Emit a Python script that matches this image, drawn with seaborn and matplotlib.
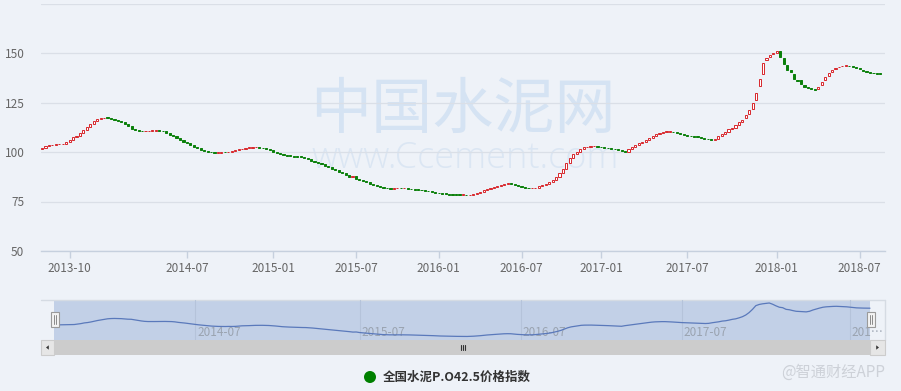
import numpy as np
import pandas as pd
import matplotlib
matplotlib.use("Agg")
import matplotlib.pyplot as plt
from matplotlib.patches import Rectangle, Circle, Polygon
from matplotlib.transforms import blended_transform_factory
import seaborn as sns

# ---------------- data (weekly candles) ----------------
close = [
    102.0, 102.9, 103.4, 103.6, 103.8, 103.8, 104.0, 104.9, 106.0, 107.5,
    108.3, 109.6, 111.2, 112.8, 114.1, 115.5, 116.5, 117.0, 117.2, 117.1,
    116.8, 116.2, 115.6, 115.4, 114.2, 113.0, 111.8, 110.9, 110.5, 110.4,
    110.5, 110.6, 110.6, 110.7, 110.6, 110.4, 109.8, 108.7, 108.0, 107.2,
    106.2, 105.2, 104.3, 103.4, 102.7, 102.0, 101.2, 100.6, 100.2, 99.9,
    99.7, 99.7, 99.9, 99.8, 100.0, 100.6, 101.2, 101.3, 101.6, 102.0,
    102.2, 102.3, 102.3, 102.2, 101.9, 101.4, 100.8, 100.0, 99.3, 98.8,
    98.5, 98.2, 97.9, 97.7, 97.5, 97.4, 97.0, 96.4, 95.7, 95.1,
    94.4, 93.7, 93.0, 92.2, 91.4, 90.7, 90.0, 89.2, 88.5, 87.6,
    87.8, 86.6, 86.0, 85.3, 84.7, 84.0, 83.3, 82.7, 82.1, 81.8,
    81.6, 81.5, 81.6, 81.7, 81.6, 81.6, 81.4, 81.2, 81.0, 80.8,
    80.6, 80.4, 80.1, 79.8, 79.4, 79.1, 78.9, 78.7, 78.5, 78.4,
    78.3, 78.2, 78.2, 78.1, 78.3, 78.7, 79.2, 79.8, 80.6, 81.3,
    81.9, 82.4, 82.9, 83.4, 83.9, 84.1, 84.0, 83.2, 82.6, 82.1,
    81.8, 81.6, 81.6, 81.9, 82.6, 83.3, 83.9, 84.8, 85.9, 87.5,
    89.3, 91.4, 94.2, 97.0, 98.9, 100.1, 101.5, 102.3, 102.7, 102.8,
    102.8, 102.6, 102.4, 102.1, 101.8, 101.6, 101.3, 101.0, 100.6, 100.2,
    101.5, 102.5, 103.5, 104.6, 105.3, 106.3, 107.3, 108.3, 109.2, 109.8,
    110.1, 110.3, 110.3, 110.0, 109.6, 109.1, 108.6, 108.2, 107.9, 107.7,
    107.5, 107.1, 106.8, 106.4, 106.2, 106.6, 107.9, 108.9, 110.0, 111.5,
    112.2, 113.6, 115.3, 116.4, 118.5, 121.0, 124.7, 130.0, 136.9, 145.0,
    147.6, 149.0, 150.0, 150.8, 148.1, 144.6, 141.6, 140.6, 137.0, 136.1,
    134.3, 132.8, 132.4, 131.8, 131.5, 132.8, 135.6, 137.8, 139.8, 141.6,
    142.5, 143.0, 143.4, 143.6, 143.2, 142.9, 142.5, 141.7, 140.8, 140.2,
    139.9, 139.7, 139.6, 139.5,
]
open_ = [
    101.5, 102.0, 102.9, 103.4, 103.6, 103.8, 103.8, 104.0, 104.9, 106.0,
    107.5, 108.3, 109.6, 111.2, 112.8, 114.1, 115.5, 116.5, 117.0, 117.2,
    117.1, 116.8, 116.2, 115.6, 115.4, 114.2, 113.0, 111.8, 110.9, 110.5,
    110.4, 110.5, 110.6, 110.6, 110.7, 110.6, 110.4, 109.8, 108.7, 108.0,
    107.2, 106.2, 105.2, 104.3, 103.4, 102.7, 102.0, 101.2, 100.6, 100.2,
    99.9, 99.7, 99.7, 99.9, 99.8, 100.0, 100.6, 101.2, 101.3, 101.6,
    102.0, 102.2, 102.3, 102.3, 102.2, 101.9, 101.4, 100.8, 100.0, 99.3,
    98.8, 98.5, 98.2, 97.9, 97.7, 97.5, 97.4, 97.0, 96.4, 95.7,
    95.1, 94.4, 93.7, 93.0, 92.2, 91.4, 90.7, 90.0, 89.2, 88.5,
    87.6, 87.8, 86.6, 86.0, 85.3, 84.7, 84.0, 83.3, 82.7, 82.1,
    81.8, 81.6, 81.5, 81.6, 81.7, 81.6, 81.6, 81.4, 81.2, 81.0,
    80.8, 80.6, 80.4, 80.1, 79.8, 79.4, 79.1, 78.9, 78.7, 78.5,
    78.4, 78.3, 78.2, 78.2, 78.1, 78.3, 78.7, 79.2, 79.8, 80.6,
    81.3, 81.9, 82.4, 82.9, 83.4, 83.9, 84.1, 84.0, 83.2, 82.6,
    82.1, 81.8, 81.6, 81.6, 81.9, 82.6, 83.3, 83.9, 84.8, 85.9,
    87.5, 89.3, 91.4, 94.2, 97.0, 98.9, 100.1, 101.5, 102.3, 102.7,
    102.8, 102.8, 102.6, 102.4, 102.1, 101.8, 101.6, 101.3, 101.0, 100.6,
    100.2, 101.5, 102.5, 103.5, 104.6, 105.3, 106.3, 107.3, 108.3, 109.2,
    109.8, 110.1, 110.3, 110.3, 110.0, 109.6, 109.1, 108.6, 108.2, 107.9,
    107.7, 107.5, 107.1, 106.8, 106.4, 106.2, 106.6, 107.9, 108.9, 110.0,
    111.5, 112.2, 113.6, 115.3, 117.0, 119.0, 121.5, 126.4, 133.1, 139.5,
    146.4, 148.2, 149.3, 150.1, 150.8, 147.5, 144.1, 141.2, 139.2, 136.6,
    136.3, 134.0, 132.8, 132.3, 131.7, 131.8, 134.0, 136.4, 138.4, 140.6,
    141.9, 142.7, 143.2, 143.5, 143.4, 143.2, 142.9, 142.4, 141.5, 140.7,
    140.1, 139.9, 139.7, 139.6,
]
tick_idx = [8, 42, 67, 91, 115, 139, 162, 187, 213, 237]
tick_labels = ["2013-10", "2014-07", "2015-01", "2015-07", "2016-01",
               "2016-07", "2017-01", "2017-07", "2018-01", "2018-07"]
nav_tick_idx = [42, 91, 139, 187, 237]
nav_tick_labels = ["2014-07", "2015-07", "2016-07", "2017-07", "201…"]
y_ticks = [50, 75, 100, 125, 150, 175]
y_tick_labels = ["50", "75", "100", "125", "150", ""]
series_name = "全国水泥P.O42.5价格指数"
watermark_cn = "中国水泥网"
watermark_url = "www.Ccement.com"
source_mark = "@智通财经APP"

# ---------------- style ----------------
sns.set_theme(style="white")
plt.rcParams['font.family'] = ['Noto Sans CJK SC', 'DejaVu Sans']

W, H = 901, 391
BG = '#eef2f8'
RED = '#d8262b'
GREEN = '#0a800a'
GRID = '#dadfe7'
AXIS = '#c6d0de'
TXT = '#666666'

fig = plt.figure(figsize=(W / 100, H / 100), dpi=100, facecolor=BG)

def fx(px):
    return px / W

def fy(py):
    return 1 - py / H

df = pd.DataFrame({'idx': np.arange(len(close)), 'open': open_, 'close': close})
df['up'] = df['close'] >= df['open']
df['bottom'] = df[['open', 'close']].min(axis=1)
df['height'] = (df['close'] - df['open']).abs().clip(lower=0.35)

# background overlay (pixel coordinates)
ov0 = fig.add_axes([0, 0, 1, 1], zorder=0)
ov0.set_xlim(0, W); ov0.set_ylim(H, 0); ov0.axis('off')

# ---------------- main candlestick axes ----------------
ax = fig.add_axes([fx(41), fy(251), fx(844), (251 - 3.5) / H], zorder=2)
ax.set_facecolor('none')
step = 3.45
ax.set_xlim((41 - 42) / step, (885 - 42) / step)
ax.set_ylim(50, 175)

face = np.where(df['up'], '#ffffff', GREEN)
edge = np.where(df['up'], RED, GREEN)
ax.bar(df['idx'], df['height'], bottom=df['bottom'], width=0.62,
       color=face, edgecolor=edge, linewidth=0.7, zorder=3)

ax.set_yticks(y_ticks)
ax.set_yticklabels(y_tick_labels)
ax.set_xticks(tick_idx)
ax.set_xticklabels(tick_labels)
ax.yaxis.grid(True, color=GRID, linewidth=0.9)
ax.xaxis.grid(False)
ax.set_axisbelow(True)
for s in ['left', 'right', 'top']:
    ax.spines[s].set_visible(False)
ax.spines['bottom'].set_color(AXIS)
ax.spines['bottom'].set_linewidth(1.0)
ax.tick_params(axis='x', length=5, width=1, color=AXIS, pad=3,
               labelsize=8.5, labelcolor=TXT, bottom=True)
ax.tick_params(axis='y', length=0, pad=12, labelsize=8.5, labelcolor=TXT)
ax.set_xlabel(''); ax.set_ylabel('')

# watermarks behind candles
ax.text(fx(463), fy(128), watermark_cn, transform=fig.transFigure,
        ha='center', va='baseline', fontsize=44, color='#d5e3f3', zorder=0)
ax.text(fx(465), fy(168), watermark_url, transform=fig.transFigure,
        ha='center', va='baseline', fontsize=26, color='#dbe6f3',
        family=['Open Sans', 'DejaVu Sans'], fontweight='light', zorder=0)

# ---------------- navigator ----------------
ov0.add_patch(Rectangle((54, 300), 870 - 54, 40, fc='#c2d0e7', ec='none'))
ov0.plot([41, 885], [300, 300], color='#d5dbe3', lw=1)
ov0.plot([885, 885], [300, 340], color='#d5dbe3', lw=1)

nav = fig.add_axes([fx(41), fy(340), fx(844), 40 / H], zorder=3)
nav.set_facecolor('none')
nstep = (870 - 54) / (len(close) - 1)
nav.set_xlim(-(54 - 41) / nstep, (len(close) - 1) + (885 - 870) / nstep)
nav.set_ylim(70.4, 157.3)
for t in nav_tick_idx:
    nav.axvline(t, color='#b5c3da', lw=0.8, zorder=0)
btr = blended_transform_factory(nav.transData, nav.transAxes)
for t, lab in zip(nav_tick_idx, nav_tick_labels):
    nav.text(t + 0.6, 0.2, lab, transform=btr, ha='left', va='center',
             fontsize=8.5, color='#9aa3b0', zorder=1, clip_on=False)
sns.lineplot(data=df, x='idx', y='close', ax=nav, color='#5a79bb',
             linewidth=0.9, zorder=2)
nav.axis('off')

# overlay on top: scrollbar, handles, legend, source mark
ov = fig.add_axes([0, 0, 1, 1], zorder=4)
ov.set_xlim(0, W); ov.set_ylim(H, 0); ov.axis('off')
ov.set_facecolor('none')

ov.add_patch(Rectangle((54, 340), 816, 15, fc='#cccccc', ec='none'))
ov.add_patch(Rectangle((41, 340), 13, 15, fc='#e6e6e6', ec='#cccccc', lw=0.8))
ov.add_patch(Rectangle((870, 340), 14.5, 15, fc='#e6e6e6', ec='#cccccc', lw=0.8))
ov.add_patch(Polygon([(46, 347.5), (48.8, 345.3), (48.8, 349.7)], closed=True,
                     fc='#333333', ec='none'))
ov.add_patch(Polygon([(879, 347.5), (876.2, 345.3), (876.2, 349.7)], closed=True,
                     fc='#333333', ec='none'))
for x0 in [460.5, 462.5, 464.5]:
    ov.plot([x0, x0], [345, 350], color='#333333', lw=0.8)

for hx in [50.5, 866.5]:
    ov.add_patch(Rectangle((hx, 312), 8, 15, fc='#f3f3f3', ec='#9a9a9a', lw=0.8))
    ov.plot([hx + 3, hx + 3], [315, 324], color='#8a8a8a', lw=0.7)
    ov.plot([hx + 5, hx + 5], [315, 324], color='#8a8a8a', lw=0.7)

ov.add_patch(Circle((370, 377), 6, fc='#008000', ec='none'))
ov.text(383, 377, series_name, ha='left', va='center', fontsize=9,
        fontweight='bold', color='#333333')

ov.text(885, 372, source_mark, ha='right', va='center', fontsize=11,
        color='#cdd1d8')

fig.savefig('out.png', dpi=100, facecolor=BG)
